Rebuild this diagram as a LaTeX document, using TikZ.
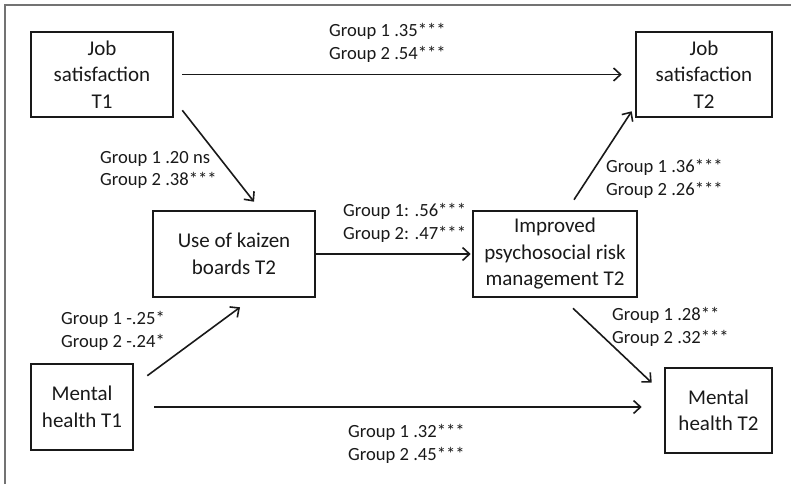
\documentclass[tikz,border=0pt]{standalone}
\usepackage{fontspec}
\setmainfont{Carlito}
\usepackage{tikz}
\usetikzlibrary{arrows.meta,positioning,calc}
\usepackage{xcolor}

\begin{document}
\begin{tikzpicture}[
    x=1pt, y=-1pt,
    >={Straight Barb[length=7pt,width=13pt]},
    var/.style={rectangle, draw=black!90, line width=2.6pt, inner sep=0pt, align=center, text=black!90, font=\fontsize{21}{26.5}\selectfont},
    path/.style={->, line width=1.6pt, draw=black!90},
    coef/.style={anchor=west, align=left, inner sep=0pt, text=black!90, font=\fontsize{18.6}{22.5}\selectfont}
]
\useasboundingbox (0,0) rectangle (791,484);

% Frame
\draw[black!55, line width=1.6pt] (5,484) -- (5,5) -- (791,5);

% Variables
\node[var, minimum width=142pt, minimum height=85pt] (js1) at (102,74.5) {Job\\satisfaction\\T1};
\node[var, minimum width=136pt, minimum height=85pt] (js2) at (704,74.5) {Job\\satisfaction\\T2};
\node[var, minimum width=162pt, minimum height=86pt] (kaizen) at (234,254) {Use of kaizen\\boards T2};
\node[var, minimum width=164pt, minimum height=86pt] (risk) at (555,254) {Improved\\psychosocial risk\\management T2};
\node[var, minimum width=102pt, minimum height=86pt] (mh1) at (82,407) {Mental\\health T1};
\node[var, minimum width=107pt, minimum height=85pt] (mh2) at (718.5,410.5) {Mental\\health T2};

% Paths
\draw[path, shorten <=8pt, shorten >=13pt] (js1) -- (js2);
\draw[path] ($(js1.south east)+(8,-8)$) -- ($(kaizen.north)+(20,-8)$);
\draw[path, shorten >=1pt] (kaizen) -- (risk);
\draw[path] ($(risk.north)+(19,-10)$) -- ($(js2.south west)+(-3,-7)$);
\draw[path] ($(mh1.north east)+(13,13)$) -- ($(kaizen.south)+(6,9)$);
\draw[path] ($(mh1.east)+(20,0)$) -- ($(mh1.east -| mh2.west)+(-22,0)$);
\draw[path] ($(risk.south)+(18,10)$) -- ($(mh2.north west)+(-12,16)$);

% Coefficients
\node[coef] (c1) at (329,43) {Group 1 .35***\\Group 2 .54***};
\node[coef] (c2) at (100,170) {Group 1 .20 ns\\Group 2 .38***};
\node[coef] (c3) at (343,223) {Group 1: .56***\\Group 2: .47***};
\node[coef] (c4) at (606,179) {Group 1 .36***\\Group 2 .26***};
\node[coef] (c5) at (61,331) {Group 1 -.25*\\Group 2 -.24*};
\node[coef] (c6) at (612,327) {Group 1 .28**\\Group 2 .32***};
\node[coef] (c7) at (348,444) {Group 1 .32***\\Group 2 .45***};

\end{tikzpicture}
\end{document}
